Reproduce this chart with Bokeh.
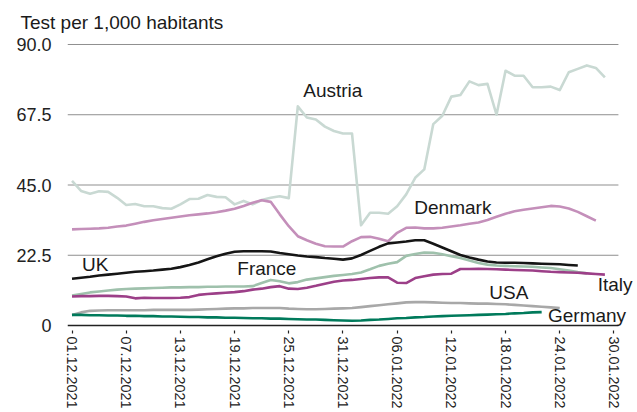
import pandas as pd
from bokeh.plotting import figure
from bokeh.models import FixedTicker, CustomJSTickFormatter, Label, Range1d
from bokeh.embed import file_html
from bokeh.resources import INLINE

START = "2021-12-01"
tick_dates = ["2021-12-01", "2021-12-07", "2021-12-13", "2021-12-19", "2021-12-25",
              "2021-12-31", "2022-01-06", "2022-01-12", "2022-01-18", "2022-01-24", "2022-01-30"]
y_ticks = [0, 22.5, 45, 67.5, 90]

austria = [46.3, 43.1, 42.2, 43.0, 42.8, 40.9, 38.6, 38.9, 38.2, 38.2, 37.6, 37.4, 38.8, 40.5,
           40.6, 41.8, 41.2, 41.1, 38.8, 39.9, 38.8, 40.2, 40.9, 41.4, 40.8,
           70.2, 66.6, 66.0, 63.7, 62.3, 61.5, 61.5, 32.1, 36.1, 36.1, 35.8, 38.2, 42.0, 47.3,
           50.0, 64.5, 67.2, 73.3, 73.8, 78.2, 77.0, 77.4, 67.5, 81.6, 80.0, 80.0, 76.3, 76.3,
           76.5, 75.4, 81.1, 82.2, 83.3, 82.5, 79.5]
denmark = [30.8, 30.9, 31.0, 31.1, 31.3, 31.7, 32.0, 32.6, 33.2, 33.7, 34.1, 34.5, 34.9, 35.3,
           35.6, 35.9, 36.3, 36.8, 37.4, 38.3, 39.3, 40.1, 39.6, 35.6, 31.8, 28.6, 27.3, 26.2,
           25.4, 25.3, 25.3, 27.0, 28.3, 28.4, 27.8, 27.0, 29.7, 31.3, 31.4, 31.1, 31.1, 31.3,
           31.7, 32.1, 32.6, 33.0, 33.8, 34.8, 35.8, 36.6, 37.1, 37.5, 37.9, 38.3, 38.1, 37.5,
           36.4, 35.0, 33.6]
uk = [15.0, 15.3, 15.6, 16.0, 16.3, 16.6, 16.9, 17.2, 17.4, 17.6, 17.9, 18.2, 18.7, 19.4, 20.2,
      21.2, 22.2, 23.0, 23.6, 23.8, 23.8, 23.8, 23.7, 23.2, 22.8, 22.4, 22.1, 21.9, 21.6, 21.4,
      21.1, 21.5, 22.6, 23.9, 25.2, 26.3, 26.6, 26.9, 27.3, 27.3, 26.2, 25.0, 23.8, 22.6, 21.8,
      21.1, 20.5, 20.2, 20.1, 20.1, 20.0, 19.9, 19.8, 19.7, 19.6, 19.4, 19.2]
france = [9.6, 10.1, 10.6, 10.9, 11.2, 11.5, 11.7, 11.8, 11.9, 12.0, 12.1, 12.2, 12.2, 12.3,
          12.3, 12.4, 12.4, 12.5, 12.5, 12.5, 12.6, 13.6, 14.6, 14.2, 13.5, 13.9, 14.7, 15.1,
          15.5, 15.9, 16.2, 16.5, 17.0, 18.0, 19.1, 19.8, 20.3, 22.3, 22.9, 23.4, 23.3, 22.8,
          22.2, 21.6, 20.8, 20.0, 19.5, 19.2, 19.1, 19.0, 18.9, 18.8, 18.6, 18.4, 18.0, 17.6,
          17.1, 16.7]
italy = [9.3, 9.4, 9.4, 9.5, 9.5, 9.4, 9.3, 8.7, 8.9, 8.8, 8.8, 8.8, 8.9, 9.1, 9.8, 10.1, 10.3,
         10.5, 10.7, 11.0, 11.5, 11.8, 12.3, 12.6, 11.8, 11.7, 12.1, 12.7, 13.4, 14.0, 14.4,
         14.6, 14.9, 15.2, 15.4, 15.4, 13.7, 13.6, 15.2, 15.8, 16.3, 16.5, 16.6, 18.1, 18.1,
         18.2, 18.1, 18.0, 17.9, 17.8, 17.7, 17.6, 17.4, 17.2, 17.1, 17.0, 16.9, 16.7, 16.5, 16.3]
usa = [3.4, 4.2, 4.7, 4.8, 4.9, 4.9, 4.9, 4.9, 4.9, 5.0, 5.0, 5.0, 5.0, 5.0, 5.1, 5.2, 5.3, 5.4,
       5.5, 5.5, 5.6, 5.6, 5.6, 5.6, 5.4, 5.3, 5.2, 5.2, 5.3, 5.4, 5.5, 5.6, 5.9, 6.2, 6.5, 6.8,
       7.1, 7.4, 7.5, 7.5, 7.4, 7.3, 7.2, 7.2, 7.1, 7.0, 7.0, 6.9, 6.8, 6.6, 6.4, 6.2, 6.0, 5.8, 5.6]
germany = [3.4, 3.4, 3.3, 3.3, 3.2, 3.2, 3.1, 3.1, 3.0, 3.0, 2.9, 2.9, 2.8, 2.7, 2.7, 2.6, 2.6,
           2.5, 2.5, 2.4, 2.3, 2.3, 2.2, 2.2, 2.1, 2.0, 1.9, 1.9, 1.8, 1.7, 1.6, 1.5, 1.6, 1.8,
           1.9, 2.1, 2.3, 2.4, 2.6, 2.7, 2.9, 3.0, 3.1, 3.2, 3.3, 3.4, 3.5, 3.6, 3.7, 3.9, 4.0,
           4.2, 4.3]

series = [
    ("Austria", austria, "#c9d9d3"),
    ("Denmark", denmark, "#c48fba"),
    ("France", france, "#9fc1ac"),
    ("Italy", italy, "#9c3f88"),
    ("USA", usa, "#a8a8a8"),
    ("Germany", germany, "#007a5b"),
    ("UK", uk, "#151515"),
]

# label anchors: (text, day offset from start, value at baseline)
labels = [
    ("Austria", 25.6, 75.2),
    ("Denmark", 37.9, 37.8),
    ("UK", 1.1, 19.5),
    ("France", 18.3, 18.2),
    ("USA", 46.2, 10.6),
    ("Italy", 58.2, 13.0),
    ("Germany", 52.7, 3.2),
]
title_text = "Test per 1,000 habitants"

FONT = "Liberation Sans"
t0 = pd.Timestamp(START)


def ms(day):
    return (t0 + pd.Timedelta(days=day)).value / 1e6


X_START, X_END, X_CANVAS_END = -0.5, 60.5, 62.5
Y_START, Y_END = -1.6, 90.64

p = figure(width=636, height=411, x_axis_type="datetime", output_backend="svg",
           toolbar_location=None, min_border_left=67, min_border_right=0,
           min_border_top=42, min_border_bottom=81)
p.x_range = Range1d(ms(X_START), ms(X_CANVAS_END))
p.y_range = Range1d(Y_START, Y_END)
p.outline_line_color = None
p.background_fill_color = "white"
p.border_fill_color = "white"

# title
p.title.text = title_text
p.title.text_font = FONT
p.title.text_font_size = "19px"
p.title.text_font_style = "normal"
p.title.text_color = "#1a1a1a"
p.title.align = "left"
p.title.offset = -47
p.title.standoff = 19

# horizontal grid lines (only over the date span)
grid_vals = [t for t in y_ticks if t != 0]
p.segment(x0=[ms(X_START)] * len(grid_vals), x1=[ms(X_END)] * len(grid_vals),
          y0=grid_vals, y1=grid_vals, line_color="#8f8f8f", line_width=1)

for name, vals, color in series:
    xs = pd.date_range(START, periods=len(vals), freq="D")
    p.line(xs, vals, line_color=color, line_width=2.6, line_join="round")

# baseline (x axis line at zero)
p.segment(x0=[ms(X_START)], x1=[ms(X_END)], y0=[0], y1=[0], line_color="#222222", line_width=1.6)

# x axis
xa = p.xaxis[0]
xa.ticker = FixedTicker(ticks=[pd.Timestamp(d).value / 1e6 for d in tick_dates])
xa.formatter = CustomJSTickFormatter(code="""
const d = new Date(tick);
const dd = String(d.getUTCDate()).padStart(2, '0');
const mm = String(d.getUTCMonth() + 1).padStart(2, '0');
return dd + '.' + mm + '.' + d.getUTCFullYear();
""")
xa.major_label_orientation = "vertical"
xa.major_label_text_font = FONT
xa.major_label_text_font_size = "14.4px"
xa.major_label_text_color = "#222222"
xa.axis_line_color = None
xa.major_tick_line_color = "#222222"
xa.major_tick_line_width = 1.2
xa.major_tick_out = 3
xa.major_tick_in = 0
xa.minor_tick_line_color = None
xa.major_label_standoff = 3

# y axis
ya = p.yaxis[0]
ya.ticker = FixedTicker(ticks=y_ticks)
ya.formatter = CustomJSTickFormatter(code="return tick == 0 ? '0' : tick.toFixed(1);")
ya.axis_line_color = None
ya.major_tick_line_color = None
ya.minor_tick_line_color = None
ya.major_label_text_font = FONT
ya.major_label_text_font_size = "18px"
ya.major_label_text_color = "#222222"
ya.major_label_standoff = 10

p.xgrid.grid_line_color = None
p.ygrid.grid_line_color = None

for text, d, v in labels:
    p.add_layout(Label(x=ms(d), y=v, text=text, text_font=FONT, text_font_size="19px",
                       text_color="#1a1a1a", text_baseline="alphabetic", text_align="left"))

open("out.html", "w").write(file_html(p, INLINE))
